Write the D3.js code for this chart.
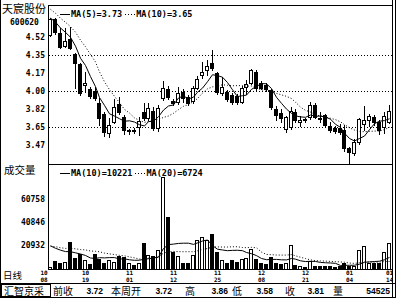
<!DOCTYPE html>
<html>
<head>
<meta charset="utf-8">
<script src="https://cdn.jsdelivr.net/npm/d3@7"></script>
<style>
    html, body { margin: 0; padding: 0; background: #fff; }
    svg { display: block; }
    .num { font-family: "DejaVu Sans Mono", monospace; font-weight: bold; font-size: 8px; fill: #000; }
    .cjk { font-family: "Noto Sans CJK SC", sans-serif; fill: #000; }
    .info { font-family: "Liberation Sans", Arial, sans-serif; font-weight: bold; font-size: 8.5px; fill: #000; }
</style>
</head>
<body>
<svg id="chart-svg" width="399" height="299"></svg>
<script>
// Daily bars, 天宸股份 600620 (Oct 8 - Jan 14)
const dates = ["10/08","10/11","10/12","10/13","10/14","10/15","10/18","10/19","10/20","10/21","10/22","10/25","10/26","10/27","10/28","10/29",
    "11/01","11/02","11/03","11/04","11/05","11/08","11/09","11/10","11/11","11/12","11/15","11/16","11/17","11/18","11/19","11/22","11/23","11/24","11/25","11/26","11/29","11/30",
    "12/01","12/02","12/03","12/06","12/07","12/08","12/09","12/10","12/13","12/14","12/15","12/16","12/17","12/20","12/21","12/22","12/23","12/24","12/27","12/28","12/29","12/30","12/31",
    "01/04","01/05","01/06","01/07","01/10","01/11","01/12","01/13","01/14"];

const opens = [4.54,4.70,4.56,4.44,4.51,4.36,4.26,4.06,4.02,4.00,
    3.88,3.78,3.59,3.70,3.87,3.75,3.61,3.62,3.65,3.80,
    3.74,3.81,3.64,3.93,4.02,3.90,3.89,3.99,3.94,3.90,
    4.03,4.16,4.20,4.27,4.17,3.98,3.99,3.96,3.95,3.89,
    4.04,4.08,4.18,4.08,4.06,4.01,3.82,3.79,3.63,3.65,
    3.80,3.70,3.73,3.75,3.86,3.74,3.77,3.66,3.64,3.64,
    3.62,3.45,3.40,3.50,3.68,3.72,3.75,3.70,3.65,3.70];
const highs = [4.71,4.71,4.61,4.61,4.62,4.37,4.27,4.18,4.04,4.04,
    3.93,3.80,3.74,3.92,3.94,3.77,3.63,3.64,3.75,3.88,
    3.88,3.84,3.86,4.10,4.05,3.92,4.04,4.02,3.96,4.05,
    4.15,4.28,4.30,4.40,4.18,4.14,4.01,3.98,3.97,4.05,
    4.11,4.21,4.20,4.10,4.08,4.02,3.85,3.82,3.76,3.84,
    3.82,3.76,3.74,3.89,3.88,3.80,3.78,3.70,3.66,3.68,
    3.67,3.46,3.53,3.74,3.85,3.78,3.77,3.72,3.80,3.86];
const lows = [4.53,4.55,4.42,4.43,4.41,4.03,3.96,3.99,3.93,3.91,
    3.67,3.56,3.55,3.69,3.78,3.58,3.58,3.59,3.57,3.72,
    3.72,3.62,3.61,3.91,3.92,3.86,3.87,3.89,3.86,3.88,
    4.02,4.13,4.16,4.20,3.97,3.96,3.90,3.87,3.87,3.88,
    3.97,4.07,4.01,4.02,4.00,3.82,3.72,3.70,3.60,3.63,
    3.70,3.66,3.70,3.73,3.74,3.70,3.65,3.60,3.59,3.58,
    3.42,3.30,3.38,3.48,3.62,3.66,3.67,3.58,3.59,3.69];
const closes = [4.70,4.57,4.43,4.49,4.42,4.27,3.98,4.08,3.95,3.93,
    3.74,3.60,3.67,3.84,3.80,3.62,3.62,3.61,3.71,3.74,
    3.83,3.64,3.83,4.03,3.94,3.88,3.98,3.93,3.88,4.03,
    4.12,4.18,4.24,4.22,3.99,4.04,3.92,3.89,3.89,4.03,
    4.07,4.20,4.03,4.03,4.02,3.84,3.77,3.74,3.75,3.81,
    3.72,3.72,3.72,3.86,3.75,3.73,3.67,3.62,3.61,3.60,
    3.45,3.41,3.50,3.73,3.72,3.76,3.70,3.62,3.76,3.81];
const volumes = [1900,7100,5400,6200,23500,9700,13200,8000,4500,13200,
    8800,5400,8000,6200,11400,10600,5400,3600,5400,22700,
    12300,11400,16600,79800,45200,14900,11400,5400,5400,12300,
    25300,27900,25300,30500,14900,8000,5400,8000,6200,8800,
    9700,17500,8800,5400,4500,10600,5400,4500,5400,21000,
    3900,3200,2300,7500,3100,2400,2500,2600,2300,2470,
    5400,3100,3200,16300,19685,5800,5600,5300,15225,22600];

// Sessions before the window, only used so the moving averages start at the left edge
const prevCloses = [4.95,4.92,4.88,4.85,4.80,4.76,4.72,4.70,4.66];
const prevVolumes = [18500,24000,16500,21000,19500,26000,15000,22500,19000,17000,
    28000,21500,18500,25000,19000,23500,20500,26500,17500];

// Axis labels
const priceTicks = [4.52,4.35,4.17,4.00,3.82,3.65,3.47];
const priceGrid = [4.35,4.00,3.65];
const volumeTicks = [20932,40846,60758];
const dateLabels = ["10/08","10/19","11/01","11/12","11/25","12/08","12/21","01/04","01/14"];
const weekStartDate = "01/10";

const svg = d3.select('#chart-svg');

// Layout
const chart = {left: 48, right: 392, priceTop: 5, priceBottom: 164, volBottom: 269, infoTop: 283};

svg.append('rect').attr('width', 399).attr('height', 299).attr('fill', '#fff');

// Scales
const x = d3.scaleBand().domain(dates).range([chart.left + 0.5, chart.right - 0.5]);
const cx = d => Math.floor(x(d) + x.bandwidth() / 2);

const yPrice = d3.scaleLinear().domain([3.29, 4.836]).range([chart.priceBottom, chart.priceTop]);
const yVol = d3.scaleLinear().domain([0, 80000]).range([269.2, 176.8]);

// Clip paths for the two panels
const defs = svg.append('defs');
defs.append('clipPath').attr('id', 'clip-price').append('rect')
    .attr('x', chart.left + 1).attr('y', chart.priceTop + 1)
    .attr('width', chart.right - chart.left - 1).attr('height', chart.priceBottom - chart.priceTop - 1);
defs.append('clipPath').attr('id', 'clip-vol').append('rect')
    .attr('x', chart.left + 1).attr('y', chart.priceBottom + 1)
    .attr('width', chart.right - chart.left - 1).attr('height', chart.volBottom - chart.priceBottom - 1);

// Moving averages
const movingAverage = (values, offset, n) => dates.map((d, i) => {
    const end = i + offset;
    if (end - n + 1 < 0) return null;
    return d3.mean(values.slice(end - n + 1, end + 1));
});
const fullCloses = prevCloses.concat(closes);
const fullVolumes = prevVolumes.concat(volumes);
const ma5 = movingAverage(fullCloses, prevCloses.length, 5);
const ma10 = movingAverage(fullCloses, prevCloses.length, 10);
const vma10 = movingAverage(fullVolumes, prevVolumes.length, 10);
const vma20 = movingAverage(fullVolumes, prevVolumes.length, 20);

// Frame lines
const frame = svg.append('g').attr('stroke', '#000').attr('shape-rendering', 'crispEdges');
const hLine = (y, x1, x2) => frame.append('line').attr('x1', x1).attr('x2', x2).attr('y1', y).attr('y2', y);
const vLine = (xx, y1, y2) => frame.append('line').attr('x1', xx).attr('x2', xx).attr('y1', y1).attr('y2', y2);
vLine(0.5, 0, 298);
hLine(297.5, 0, 396);
vLine(chart.right + 0.5, 0, 298);
vLine(395.5, 0, 298);
vLine(chart.left + 0.5, chart.priceTop, chart.volBottom + 1);
hLine(chart.priceTop + 0.5, chart.left, chart.right);
hLine(chart.priceBottom + 0.5, chart.left, chart.right);
hLine(chart.volBottom + 0.5, chart.left, chart.right);
hLine(chart.infoTop + 0.5, 0, 396);

// Price gridlines (dotted)
svg.append('g').selectAll('line').data(priceGrid).join('line')
    .attr('x1', chart.left + 1).attr('x2', chart.right)
    .attr('y1', d => Math.round(yPrice(d)) + 0.5).attr('y2', d => Math.round(yPrice(d)) + 0.5)
    .attr('stroke', '#000').attr('stroke-dasharray', '1,2').attr('shape-rendering', 'crispEdges');

// Price tick labels
svg.append('g').selectAll('text').data(priceTicks).join('text')
    .attr('class', 'num').attr('text-anchor', 'end')
    .attr('x', 45).attr('y', d => yPrice(d) + 3)
    .text(d => d.toFixed(2));

// Volume tick labels
svg.append('g').selectAll('text').data(volumeTicks).join('text')
    .attr('class', 'num').attr('text-anchor', 'end')
    .attr('x', 45).attr('y', d => yVol(d) + 3)
    .text(d => d);

// Candles (4px bodies, hollow = up)
const candles = svg.append('g').attr('clip-path', 'url(#clip-price)').attr('shape-rendering', 'crispEdges');
dates.forEach((d, i) => {
    const c = cx(d);
    const up = closes[i] >= opens[i];
    candles.append('line')
        .attr('x1', c + 0.5).attr('x2', c + 0.5)
        .attr('y1', Math.round(yPrice(highs[i]))).attr('y2', Math.round(yPrice(lows[i])) + 1)
        .attr('stroke', '#000');
    const yTop = Math.round(yPrice(Math.max(opens[i], closes[i])));
    const yBot = Math.round(yPrice(Math.min(opens[i], closes[i])));
    candles.append('rect')
        .attr('x', c - 1.5).attr('y', yTop + 0.5)
        .attr('width', 3).attr('height', Math.max(yBot - yTop, 0))
        .attr('fill', up ? '#fff' : '#000').attr('stroke', '#000');
});

// Volume bars
const bars = svg.append('g').attr('clip-path', 'url(#clip-vol)').attr('shape-rendering', 'crispEdges');
dates.forEach((d, i) => {
    const c = cx(d);
    const up = closes[i] >= opens[i];
    const yTop = Math.round(yVol(volumes[i]));
    bars.append('rect')
        .attr('x', c - 1.5).attr('y', yTop + 0.5)
        .attr('width', 3).attr('height', Math.max(chart.volBottom - yTop - 0.5, 0))
        .attr('fill', up ? '#fff' : '#000').attr('stroke', '#000');
});

// MA lines
const drawLine = (values, yScale, clip, dashed) => {
    svg.append('path')
        .datum(dates.map((d, i) => [d, values[i]]))
        .attr('clip-path', clip)
        .attr('fill', 'none')
        .attr('stroke', '#000')
        .attr('stroke-width', 1)
        .attr('stroke-dasharray', dashed ? '1,2' : null)
        .attr('d', d3.line()
            .defined(p => p[1] != null)
            .x(p => cx(p[0]) + 0.5)
            .y(p => yScale(p[1]))
        );
};
drawLine(ma5, yPrice, 'url(#clip-price)', false);
drawLine(ma10, yPrice, 'url(#clip-price)', true);
drawLine(vma10, yVol, 'url(#clip-vol)', false);
drawLine(vma20, yVol, 'url(#clip-vol)', true);

// Legends
const legend = (y, items) => {
    let pos = 60;
    items.forEach(item => {
        svg.append('line')
            .attr('x1', pos).attr('x2', pos + 10).attr('y1', y - 2.5).attr('y2', y - 2.5)
            .attr('stroke', '#000').attr('stroke-dasharray', item.dashed ? '1,2' : null)
            .attr('shape-rendering', 'crispEdges');
        const t = svg.append('text').attr('class', 'num').style('font-size', '8.5px')
            .attr('x', pos + 11).attr('y', y).text(item.label);
        pos += 11 + t.node().getComputedTextLength() + 3;
    });
};
const last = dates.length - 1;
legend(16.5, [
    {label: `MA(5)=${ma5[last].toFixed(2)}`, dashed: false},
    {label: `MA(10)=${ma10[last].toFixed(2)}`, dashed: true}
]);
legend(176, [
    {label: `MA(10)=${Math.round(vma10[last])}`, dashed: false},
    {label: `MA(20)=${Math.round(vma20[last])}`, dashed: true}
]);

// Titles
svg.append('text').attr('class', 'cjk').style('font-size', '11px').attr('x', 2).attr('y', 13).text('天宸股份');
svg.append('text').attr('class', 'num').attr('x', 10).attr('y', 25).text('600620');
svg.append('text').attr('class', 'cjk').style('font-size', '10.5px').attr('x', 4).attr('y', 174).text('成交量');
svg.append('text').attr('class', 'cjk').style('font-size', '9.5px').attr('x', 3).attr('y', 279).text('日线');

// Date labels: month stacked over day
const dateX = (d, i) => i === 0 ? chart.left - 4 : cx(d) + 0.5;
const dl = svg.append('g').selectAll('g').data(dateLabels).join('g')
    .attr('transform', (d, i) => `translate(${dateX(d, i)},0)`);
dl.append('text').attr('class', 'num').style('font-size', '6px').attr('text-anchor', 'middle')
    .attr('y', 274.5).text(d => d.slice(0, 2));
dl.append('text').attr('class', 'num').style('font-size', '6px').attr('text-anchor', 'middle')
    .attr('y', 282).text(d => d.slice(3));

// Weekly info bar
const ws = dates.indexOf(weekStartDate);
const week = {
    prevClose: closes[ws - 1],
    open: opens[ws],
    high: d3.max(highs.slice(ws)),
    low: d3.min(lows.slice(ws)),
    close: closes[last],
    vol: d3.sum(volumes.slice(ws))
};
svg.append('rect').attr('x', 1.5).attr('y', 284.5).attr('width', 49).attr('height', 12)
    .attr('fill', 'none').attr('stroke', '#000').attr('shape-rendering', 'crispEdges');
const infoLabel = (xx, txt) => svg.append('text').attr('class', 'cjk').style('font-size', '10px')
    .attr('x', xx).attr('y', 294.5).text(txt);
const infoValue = (xx, txt) => svg.append('text').attr('class', 'info').attr('text-anchor', 'end')
    .attr('x', xx).attr('y', 294).text(txt);
infoLabel(4, '汇智京采');
infoLabel(53, '前收');
infoValue(103, week.prevClose.toFixed(2));
infoLabel(111, '本周开');
infoValue(172, week.open.toFixed(2));
infoLabel(185, '高');
infoValue(228, week.high.toFixed(2));
infoLabel(232, '低');
infoValue(273, week.low.toFixed(2));
infoLabel(285, '收');
infoValue(324, week.close.toFixed(2));
infoLabel(333, '量');
infoValue(390, week.vol);
</script>
</body>
</html>
